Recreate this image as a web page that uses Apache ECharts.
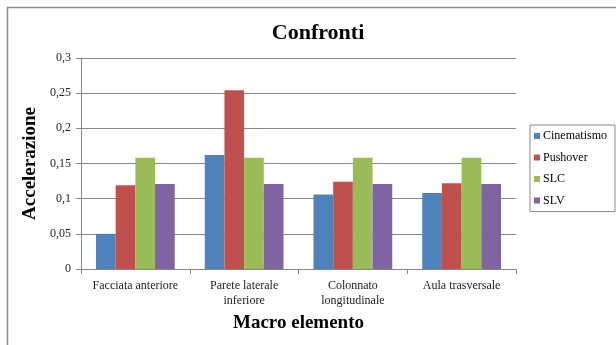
<!DOCTYPE html>
<html>
<head>
<meta charset="utf-8">
<script src="https://cdn.jsdelivr.net/npm/echarts@6/dist/echarts.min.js"></script>
<style>
  html, body { margin: 0; padding: 0; background: #fff; }
  #chart { width: 616px; height: 345px; }
</style>
</head>
<body>
<div id="chart"></div>
<script>
// Macro elements compared
const categories = ['Facciata anteriore', 'Parete laterale\ninferiore', 'Colonnato\nlongitudinale', 'Aula trasversale'];
const cinematismo = [0.050, 0.162, 0.106, 0.108];
const pushover = [0.119, 0.254, 0.124, 0.122];
const slc = [0.158, 0.158, 0.158, 0.158];
const slv = [0.121, 0.121, 0.121, 0.121];
const seriesNames = ['Cinematismo', 'Pushover', 'SLC', 'SLV'];
const seriesColors = ['#4F81BD', '#C0504D', '#9BBB59', '#8064A2'];
const seriesData = [cinematismo, pushover, slc, slv];

const serif = '"Liberation Serif", "DejaVu Serif", serif';

const chart = echarts.init(document.getElementById('chart'), null, { renderer: 'canvas' });

chart.setOption({
  animation: false,
  backgroundColor: '#fff',
  textStyle: { fontFamily: serif },
  title: {
    text: 'Confronti',
    left: 313,
    textAlign: 'center',
    top: 17,
    textStyle: { fontFamily: serif, fontSize: 22, fontWeight: 'bold', color: '#000' }
  },
  legend: {
    orient: 'vertical',
    left: 530,
    top: 125,
    icon: 'rect',
    itemWidth: 6,
    itemHeight: 6,
    itemGap: 9.5,
    padding: [5, 8, 5, 4],
    borderColor: '#8c8c8c',
    borderWidth: 1,
    textStyle: { fontFamily: serif, fontSize: 12, color: '#000', padding: [0, 0, 0, -2] },
    data: seriesNames
  },
  grid: { left: 81, top: 58, right: 100, bottom: 76, containLabel: false },
  xAxis: {
    type: 'category',
    data: categories,
    name: 'Macro elemento',
    nameLocation: 'middle',
    nameGap: 45,
    nameTextStyle: { fontFamily: serif, fontSize: 19, fontWeight: 'bold', color: '#000' },
    axisLine: { lineStyle: { color: '#868686' } },
    axisTick: { show: true, alignWithLabel: false, length: 5, lineStyle: { color: '#868686' } },
    axisLabel: { fontFamily: serif, fontSize: 12, color: '#222', margin: 9, lineHeight: 15, interval: 0 }
  },
  yAxis: {
    type: 'value',
    min: 0,
    max: 0.3,
    interval: 0.05,
    name: 'Accelerazione',
    nameLocation: 'middle',
    nameGap: 39,
    nameRotate: 90,
    nameTextStyle: { fontFamily: serif, fontSize: 19, fontWeight: 'bold', color: '#000' },
    axisLine: { show: true, lineStyle: { color: '#868686' } },
    axisTick: { show: true, length: 5, lineStyle: { color: '#868686' } },
    splitLine: { lineStyle: { color: '#868686' } },
    axisLabel: {
      fontFamily: serif, fontSize: 12, color: '#222', margin: 10,
      formatter: v => String(Math.round(v * 100) / 100).replace('.', ',')
    }
  },
  series: seriesNames.map((name, i) => ({
    name,
    type: 'bar',
    data: seriesData[i],
    barGap: '0%',
    barCategoryGap: '27.6%',
    itemStyle: { color: seriesColors[i] }
  })),
  graphic: [
    { type: 'line', shape: { x1: 7, y1: 7.5, x2: 616, y2: 7.5 }, style: { stroke: '#8c8c8c', lineWidth: 1.5 } },
    { type: 'line', shape: { x1: 7.5, y1: 7, x2: 7.5, y2: 345 }, style: { stroke: '#8c8c8c', lineWidth: 1.5 } }
  ]
});
</script>
</body>
</html>
